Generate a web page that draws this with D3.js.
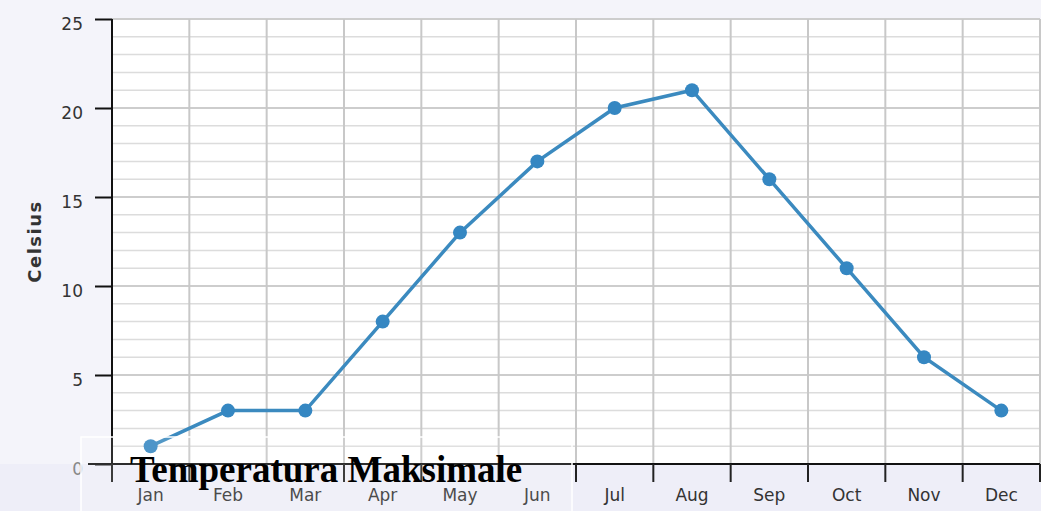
<!doctype html>
<meta charset="utf-8">
<style>
  body { margin: 0; background: #f4f4fa; }
  svg { display: block; }
  .grid line { stroke: #d2d2d2; }
  .lbl { font-family: "DejaVu Sans", sans-serif; fill: #333; }
</style>
<html lang="en">
<body>
<script src="https://d3js.org/d3.v7.min.js"></script>
<script>
// data
var months = ["Jan", "Feb", "Mar", "Apr", "May", "Jun", "Jul", "Aug", "Sep", "Oct", "Nov", "Dec"];
var temps = [1, 3, 3, 8, 13, 17, 20, 21, 16, 11, 6, 3];
var yTicks = [0, 5, 10, 15, 20, 25];
var title = "Temperatura Maksimale";
var yTitle = "Celsius";

var width = 1041, height = 511;
var margin = {top: 19, right: 1, bottom: 47, left: 112};
var w = width - margin.left - margin.right,
    h = height - margin.top - margin.bottom;

var svg = d3.select("body").append("svg")
    .attr("width", width)
    .attr("height", height);

// lavender band below the axis
svg.append("rect")
    .attr("x", 0).attr("y", margin.top + h)
    .attr("width", width).attr("height", margin.bottom)
    .attr("fill", "#eeeef8");

var g = svg.append("g")
    .attr("transform", "translate(" + margin.left + "," + margin.top + ")");

var x = d3.scaleBand().domain(months).range([0, w]);
var y = d3.scaleLinear().domain([0, 25]).range([h, 0]);

// plot background
g.append("rect")
    .attr("width", w).attr("height", h)
    .attr("fill", "#ffffff");

// minor horizontal grid (every 1)
g.append("g").attr("class", "grid")
  .selectAll("line")
  .data(d3.range(1, 26))
  .join("line")
    .attr("x1", 0).attr("x2", w)
    .attr("y1", function(d) { return y(d); })
    .attr("y2", function(d) { return y(d); })
    .attr("stroke-width", function(d) { return d % 5 == 0 ? 2 : 1.5; })
    .style("stroke", function(d) { return d % 5 == 0 ? "#cdcdcd" : "#dcdcdc"; });

// vertical grid at category boundaries
var bounds = months.map(function(m) { return x(m); }).concat([w]);
g.append("g").attr("class", "grid")
  .selectAll("line")
  .data(bounds.slice(1))
  .join("line")
    .attr("x1", function(d) { return d; }).attr("x2", function(d) { return d; })
    .attr("y1", 0).attr("y2", h)
    .attr("stroke-width", 2)
    .style("stroke", "#c8c8c8");

// translucent title box (under the series)
svg.append("rect")
    .attr("x", 81).attr("y", 437)
    .attr("width", 491).attr("height", 80)
    .attr("fill", "#ffffff").attr("fill-opacity", 0.12)
    .attr("stroke", "#ffffff").attr("stroke-width", 1.5);

// line + points
var line = d3.line()
    .x(function(d, i) { return x(months[i]) + x.bandwidth() / 2; })
    .y(function(d) { return y(d); });

g.append("path")
    .datum(temps)
    .attr("fill", "none")
    .attr("stroke", "#3b8abf")
    .attr("stroke-width", 3.5)
    .attr("d", line);

g.selectAll("circle.pt")
  .data(temps)
  .join("circle")
    .attr("class", "pt")
    .attr("cx", function(d, i) { return x(months[i]) + x.bandwidth() / 2; })
    .attr("cy", function(d) { return y(d); })
    .attr("r", 7)
    .attr("fill", "#3587c2");

// y axis
var yAxis = g.append("g")
    .call(d3.axisLeft(y).tickValues(yTicks).tickSize(17).tickPadding(12));
yAxis.select(".domain").attr("stroke", "#111").attr("stroke-width", 2).attr("d", "M0," + y(25) + "V" + h);
yAxis.selectAll(".tick line").attr("stroke", "#111").attr("stroke-width", 2);
yAxis.selectAll(".tick text")
    .attr("class", "lbl")
    .attr("dy", "0.62em")
    .style("font-size", "17px")
    .style("fill", function(d) { return d == 0 ? "#888" : "#333"; });

// x axis
var xAxis = g.append("g")
    .attr("transform", "translate(0," + h + ")");
xAxis.append("line")
    .attr("x1", -24).attr("x2", w)
    .attr("stroke", "#111").attr("stroke-width", 2);
xAxis.selectAll("line.tk")
  .data(bounds)
  .join("line")
    .attr("class", "tk")
    .attr("x1", function(d) { return d; }).attr("x2", function(d) { return d; })
    .attr("y1", 0).attr("y2", 18)
    .attr("stroke", "#222").attr("stroke-width", 2);
xAxis.selectAll("text")
  .data(months)
  .join("text")
    .attr("class", "lbl")
    .attr("x", function(d) { return x(d) + x.bandwidth() / 2; })
    .attr("y", 37)
    .attr("text-anchor", "middle")
    .style("font-size", "17px")
    .text(function(d) { return d; });

// y title
svg.append("text")
    .attr("class", "lbl")
    .attr("transform", "translate(41," + (margin.top + y(12.5)) + ") rotate(-90)")
    .attr("text-anchor", "middle")
    .style("font-size", "18px")
    .style("font-weight", "bold")
    .style("letter-spacing", "1.5px")
    .text(yTitle);

svg.append("text")
    .attr("x", 130).attr("y", 482)
    .style("font-family", "'Liberation Serif', 'Times New Roman', serif")
    .style("font-weight", "bold")
    .style("font-size", "37px")
    .style("fill", "#000")
    .text(title);
</script>
</body>
</html>
